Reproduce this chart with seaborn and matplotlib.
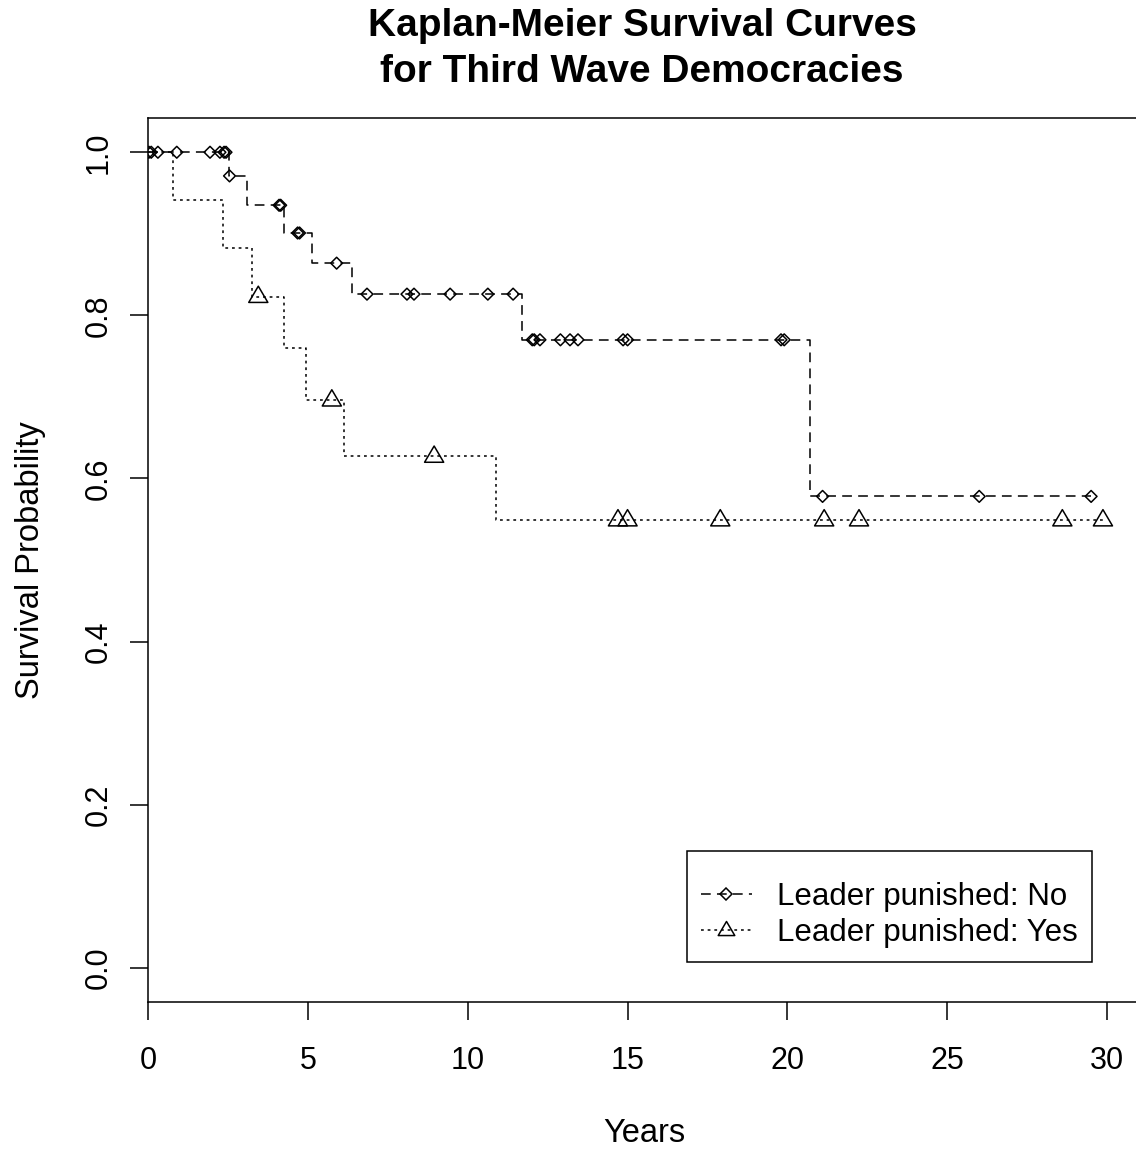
import matplotlib
import matplotlib.pyplot as plt
import numpy as np
import pandas as pd
import seaborn as sns
from matplotlib.lines import Line2D
from matplotlib.path import Path

matplotlib.use("Agg")

# Kaplan-Meier step data (years, survival probability)
no_times = [0.0, 2.52, 3.11, 4.25, 5.14, 6.38, 11.7, 20.7, 29.5]
no_surv = [1.0, 0.971, 0.935, 0.901, 0.864, 0.826, 0.770, 0.578, 0.578]
no_censored = [0.03, 0.1, 0.31, 0.9, 1.94, 2.25, 2.38, 2.44, 2.55, 4.1, 4.15,
               4.68, 4.74, 5.9, 6.85, 8.1, 8.32, 9.45, 10.63, 11.42, 12.02,
               12.08, 12.26, 12.9, 13.2, 13.45, 14.86, 15.0, 19.8, 19.9,
               21.1, 26.0, 29.5]

yes_times = [0.0, 0.78, 2.35, 3.25, 4.25, 4.94, 6.13, 10.88, 29.87]
yes_surv = [1.0, 0.941, 0.882, 0.823, 0.760, 0.696, 0.627, 0.549, 0.549]
yes_censored = [3.45, 5.75, 8.95, 14.7, 15.0, 17.9, 21.15, 22.24, 28.6, 29.87]

group_labels = ["Leader punished: No", "Leader punished: Yes"]
x_ticks = [0, 5, 10, 15, 20, 25, 30]
y_ticks = [0.0, 0.2, 0.4, 0.6, 0.8, 1.0]

sns.set_style("white")
plt.rcParams["font.family"] = ["Liberation Sans", "DejaVu Sans"]
plt.rcParams["lines.scale_dashes"] = False
for key in ["text.color", "axes.labelcolor", "xtick.color", "ytick.color"]:
    plt.rcParams[key] = "black"

DASHED = (0, (7, 4.5))
DOTTED = (0, (2, 2.8))
LW = 1.1

# open triangle sitting a bit low on the line, like R's pch = 2
tri = Path([(-1, -0.61), (1, -0.61), (0, 1.09), (-1, -0.61)],
           [Path.MOVETO, Path.LINETO, Path.LINETO, Path.CLOSEPOLY])


def level_at(times, surv, t):
    idx = np.searchsorted(times, t, side="right") - 1
    return np.asarray(surv)[idx]


fig = plt.figure(figsize=(11.36, 11.5), dpi=100)
ax = fig.add_axes([148 / 1136, 148 / 1150, 992 / 1136, 884 / 1150])

df_no = pd.DataFrame({"t": no_times, "s": no_surv})
df_yes = pd.DataFrame({"t": yes_times, "s": yes_surv})

sns.lineplot(data=df_no, x="t", y="s", estimator=None, sort=False,
             drawstyle="steps-post", color="black", linestyle=DASHED,
             linewidth=LW, ax=ax)
sns.lineplot(data=df_yes, x="t", y="s", estimator=None, sort=False,
             drawstyle="steps-post", color="black", linestyle=DOTTED,
             linewidth=LW, ax=ax)

sns.scatterplot(x=no_censored, y=level_at(no_times, no_surv, no_censored),
                marker="D", s=36, facecolors="none", edgecolor="black",
                linewidth=LW, ax=ax, zorder=3)
sns.scatterplot(x=yes_censored, y=level_at(yes_times, yes_surv, yes_censored),
                marker=tri, s=225, facecolors="none", edgecolor="black",
                linewidth=LW, ax=ax, zorder=3)

ax.set_xlim(0, 992 / 31.97)
ax.set_ylim(-0.042, 1.042)
ax.set_xticks(x_ticks)
ax.set_yticks(y_ticks)
ax.set_xticklabels([str(v) for v in x_ticks])
ax.set_yticklabels([f"{v:.1f}" for v in y_ticks], rotation=90, va="center")
ax.tick_params(axis="both", direction="out", length=13, width=1.1,
               labelsize=22, colors="black", bottom=True, left=True)
ax.tick_params(axis="x", pad=19)
ax.tick_params(axis="y", pad=12)
for sp in ax.spines.values():
    sp.set_visible(True)
    sp.set_color("black")
    sp.set_linewidth(1.1)

ax.set_xlabel("Years", fontsize=23.5)
ax.set_ylabel("Survival Probability", fontsize=23.5)
ax.xaxis.set_label_coords(0.5, -(1133 - 1002) / 884)
ax.xaxis.label.set_va("center")
ax.yaxis.set_label_coords(-(148 - 30) / 992, 0.5)
ax.yaxis.label.set_va("center")

fig.text(642 / 1136, 1 - 49 / 1150,
         "Kaplan-Meier Survival Curves\nfor Third Wave Democracies",
         ha="center", va="center", fontsize=28, fontweight="bold",
         linespacing=1.38)

handles = [
    Line2D([], [], color="black", linestyle=DASHED, linewidth=LW, marker="D",
           markersize=6, markerfacecolor="none", markeredgewidth=LW),
    Line2D([], [], color="black", linestyle=DOTTED, linewidth=LW, marker=tri,
           markersize=13, markerfacecolor="none", markeredgewidth=LW),
]
leg = ax.legend(handles, group_labels, loc="lower right",
                bbox_to_anchor=(1092 / 1136, (1150 - 962) / 1150),
                bbox_transform=fig.transFigure, fontsize=22.5, frameon=True,
                fancybox=False, edgecolor="black", framealpha=1,
                handlelength=1.65, handletextpad=0.8, labelspacing=0.2,
                borderpad=0.45, borderaxespad=0,
                title=" ", title_fontsize=7)
leg.get_frame().set_linewidth(1.1)

plt.savefig("out.png", dpi=100)
plt.close()
